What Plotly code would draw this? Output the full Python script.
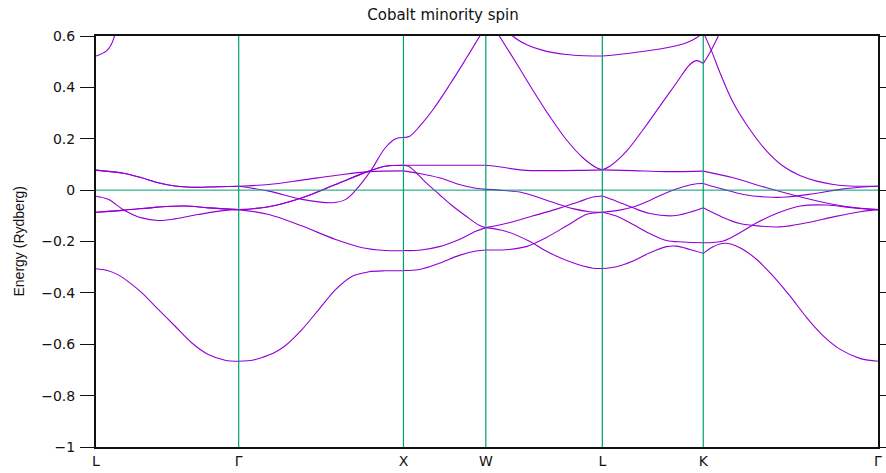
import plotly.graph_objects as go

# High-symmetry path of the fcc Brillouin zone and segment lengths (units of 2*pi/a)
kpoint_labels = ["L", "Γ", "X", "W", "L", "K", "Γ"]
segment_lengths = [0.8660, 1.0, 0.5, 0.7071, 0.6124, 1.0607]

# Bands along each segment: (fraction of segment, energy in Ry)
bands_L_G = [
    [(0, -0.306), (0.08, -0.313), (0.156, -0.330), (0.24, -0.362), (0.32, -0.399),
     (0.436, -0.464), (0.553, -0.529), (0.67, -0.594), (0.787, -0.640), (0.904, -0.662),
     (1, -0.666)],
    [(0, 0.078), (0.2, 0.065), (0.32, 0.048), (0.436, 0.029), (0.553, 0.016),
     (0.67, 0.011), (0.787, 0.012), (1, 0.015)],
    [(0, 0.078), (0.2, 0.065), (0.32, 0.048), (0.436, 0.029), (0.553, 0.016),
     (0.67, 0.011), (0.787, 0.012), (1, 0.015)],
    [(0, -0.086), (0.2, -0.078), (0.436, -0.066), (0.623, -0.062), (0.787, -0.069), (1, -0.076)],
    [(0, -0.086), (0.2, -0.078), (0.436, -0.066), (0.623, -0.062), (0.787, -0.069), (1, -0.076)],
    [(0, -0.024), (0.085, -0.036), (0.2, -0.079), (0.32, -0.108), (0.436, -0.118),
     (0.553, -0.112), (0.717, -0.095), (0.904, -0.079), (1, -0.076)],
    [(0, 0.522), (0.072, 0.541), (0.107, 0.567), (0.13, 0.6), (0.16, 0.645), (0.2, 0.71)],
]

bands_G_X = [
    [(0, -0.666), (0.09, -0.661), (0.183, -0.642), (0.235, -0.626), (0.284, -0.605),
     (0.385, -0.542), (0.487, -0.464), (0.588, -0.387), (0.69, -0.335), (0.79, -0.318),
     (0.89, -0.314), (1, -0.314)],
    [(0, -0.076), (0.183, -0.095), (0.385, -0.140), (0.588, -0.192), (0.75, -0.224),
     (0.89, -0.235), (1, -0.236)],
    [(0, -0.076), (0.183, -0.065), (0.385, -0.030), (0.588, 0.022), (0.79, 0.074),
     (0.89, 0.093), (1, 0.097)],
    [(0, -0.076), (0.183, -0.065), (0.385, -0.030), (0.588, 0.022), (0.79, 0.074),
     (0.89, 0.093), (1, 0.097)],
    [(0, 0.015), (0.183, 0.022), (0.385, 0.039), (0.588, 0.057), (0.79, 0.072), (1, 0.075)],
    [(0, 0.015), (0.183, -0.004), (0.385, -0.036), (0.57, -0.049), (0.65, -0.036),
     (0.71, 0.0), (0.80, 0.074), (0.89, 0.165), (0.953, 0.200), (1, 0.205)],
]

bands_X_W = [
    [(0, 0.097), (0.5, 0.097), (1, 0.097)],
    [(0, 0.075), (0.194, 0.065), (0.435, 0.048), (0.677, 0.022), (0.879, 0.007), (1, 0.003)],
    [(0, 0.097), (0.06, 0.093), (0.113, 0.081), (0.274, 0.029), (0.435, -0.017),
     (0.597, -0.062), (0.758, -0.101), (0.919, -0.137), (1, -0.146)],
    [(0, -0.235), (0.194, -0.234), (0.435, -0.220), (0.677, -0.192), (0.879, -0.160), (1, -0.146)],
    [(0, -0.313), (0.194, -0.309), (0.435, -0.285), (0.677, -0.254), (0.879, -0.237), (1, -0.233)],
    [(0, 0.205), (0.077, 0.21), (0.198, 0.249), (0.36, 0.314), (0.563, 0.411),
     (0.766, 0.515), (0.927, 0.6), (1, 0.64)],
]

bands_W_L = [
    [(0, 0.097), (0.115, 0.091), (0.316, 0.078), (0.546, 0.076), (0.8, 0.077), (1, 0.079)],
    [(0, 0.003), (0.115, 0.0), (0.316, -0.010), (0.546, -0.043), (0.747, -0.072),
     (0.89, -0.084), (1, -0.086)],
    [(0, -0.146), (0.2, -0.127), (0.4, -0.101), (0.6, -0.075), (0.8, -0.045),
     (0.92, -0.027), (1, -0.023)],
    [(0, -0.146), (0.17, -0.160), (0.37, -0.198), (0.546, -0.244), (0.747, -0.283),
     (0.92, -0.304), (1, -0.305)],
    [(0, -0.233), (0.2, -0.231), (0.345, -0.220), (0.517, -0.185), (0.69, -0.140),
     (0.86, -0.095), (0.93, -0.089), (1, -0.086)],
    [(0, 0.685), (0.116, 0.6), (0.26, 0.496), (0.40, 0.392), (0.547, 0.288),
     (0.69, 0.197), (0.833, 0.126), (0.95, 0.087), (1, 0.079)],
    [(0, 0.75), (0.15, 0.645), (0.231, 0.6), (0.347, 0.567), (0.49, 0.544),
     (0.69, 0.528), (0.85, 0.523), (1, 0.522)],
]

bands_L_K = [
    [(0, 0.079), (0.3, 0.076), (0.636, 0.072), (1, 0.074)],
    [(0, -0.086), (0.172, -0.078), (0.305, -0.066), (0.47, -0.040), (0.636, -0.010),
     (0.801, 0.013), (0.934, 0.025), (1, 0.026)],
    [(0, -0.023), (0.139, -0.043), (0.305, -0.069), (0.47, -0.091), (0.702, -0.100),
     (0.868, -0.086), (1, -0.069)],
    [(0, -0.086), (0.139, -0.101), (0.305, -0.134), (0.47, -0.169), (0.636, -0.196),
     (0.801, -0.202), (1, -0.205)],
    [(0, -0.305), (0.139, -0.298), (0.305, -0.276), (0.47, -0.244), (0.636, -0.220),
     (0.735, -0.218), (0.868, -0.231), (1, -0.246)],
    [(0, 0.079), (0.074, 0.093), (0.24, 0.152), (0.405, 0.236), (0.57, 0.327),
     (0.736, 0.418), (0.868, 0.489), (0.934, 0.504), (1, 0.493)],
    [(0, 0.522), (0.306, 0.535), (0.637, 0.554), (0.835, 0.574), (0.934, 0.593), (1, 0.615)],
]

bands_K_G = [
    [(0, -0.246), (0.057, -0.220), (0.124, -0.207), (0.21, -0.224), (0.306, -0.270),
     (0.4, -0.335), (0.497, -0.413), (0.593, -0.497), (0.688, -0.568), (0.784, -0.620),
     (0.9, -0.656), (1, -0.666)],
    [(0, -0.205), (0.115, -0.198), (0.21, -0.166), (0.306, -0.127), (0.42, -0.091),
     (0.554, -0.062), (0.707, -0.058), (0.86, -0.069), (1, -0.076)],
    [(0, -0.069), (0.096, -0.101), (0.21, -0.130), (0.325, -0.140), (0.44, -0.143),
     (0.593, -0.127), (0.746, -0.104), (0.9, -0.084), (1, -0.076)],
    [(0, 0.026), (0.115, 0.003), (0.23, -0.017), (0.363, -0.027), (0.478, -0.027),
     (0.63, -0.014), (0.784, 0.003), (0.937, 0.013), (1, 0.015)],
    [(0, 0.074), (0.172, 0.048), (0.363, 0.009), (0.554, -0.026), (0.746, -0.056),
     (0.9, -0.071), (1, -0.076)],
    [(0, 0.615), (0.048, 0.541), (0.096, 0.457), (0.172, 0.340), (0.267, 0.236),
     (0.363, 0.152), (0.458, 0.093), (0.553, 0.057), (0.649, 0.035), (0.744, 0.022),
     (0.84, 0.016), (1, 0.015)],
    [(0, 0.493), (0.038, 0.535), (0.086, 0.6), (0.15, 0.69)],
]

segments = [bands_L_G, bands_G_X, bands_X_W, bands_W_L, bands_L_K, bands_K_G]

fermi_level = 0.0
energy_ticks = [-1, -0.8, -0.6, -0.4, -0.2, 0, 0.2, 0.4, 0.6]

BAND_COLOR = "#9400d3"
LINE_GREEN = "#009e73"

# Cumulative k-distance of each high-symmetry point
kpos = [0.0]
for length in segment_lengths:
    kpos.append(kpos[-1] + length)

fig = go.Figure()
for i, seg in enumerate(segments):
    k0, length = kpos[i], segment_lengths[i]
    for band in seg:
        fig.add_trace(go.Scatter(
            x=[k0 + f * length for f, _ in band],
            y=[e for _, e in band],
            mode="lines",
            line=dict(color=BAND_COLOR, width=1.1, shape="spline", smoothing=1.0),
            hoverinfo="skip",
        ))

# Vertical markers at interior high-symmetry points and Fermi level
shapes = []
for k in kpos[1:-1]:
    shapes.append(dict(type="line", xref="x", yref="paper", x0=k, x1=k, y0=0, y1=1,
                       line=dict(color=LINE_GREEN, width=1.2), layer="above"))
shapes.append(dict(type="line", xref="paper", yref="y", x0=0, x1=1, y0=fermi_level,
                   y1=fermi_level, line=dict(color=LINE_GREEN, width=1), layer="above"))

fig.update_layout(
    width=886, height=473,
    margin=dict(l=96, r=8, t=36, b=26, autoexpand=False),
    paper_bgcolor="white", plot_bgcolor="white",
    showlegend=False,
    font=dict(family="DejaVu Sans, Liberation Sans, Arial, sans-serif", size=14, color="#111"),
    title=dict(text="Cobalt minority spin", x=0.5, xref="container", xanchor="center",
               y=1 - 15 / 473, yref="container", yanchor="middle",
               font=dict(size=15, color="#111")),
    shapes=shapes,
    annotations=[dict(text="Energy (Rydberg)", textangle=-90, xref="paper", yref="paper",
                      x=(18 - 96) / 782, y=0.5, xanchor="center", yanchor="middle",
                      showarrow=False,
                      font=dict(family="Liberation Sans, Arial, sans-serif", size=14, color="#111"))],
)

fig.update_xaxes(
    range=[kpos[0], kpos[-1]],
    tickvals=kpos, ticktext=kpoint_labels,
    ticks="", showgrid=False, zeroline=False, automargin=False,
    showline=True, mirror=True, linecolor="#111", linewidth=2,
)
fig.update_yaxes(
    range=[-1, 0.6],
    tickvals=energy_ticks, automargin=False,
    ticks="outside", ticklen=14, tickcolor="#111", tickwidth=1,
    ticklabelstandoff=2,
    showgrid=False, zeroline=False,
    showline=True, mirror="ticks", linecolor="#111", linewidth=2,
)

fig.write_html("out.html")
